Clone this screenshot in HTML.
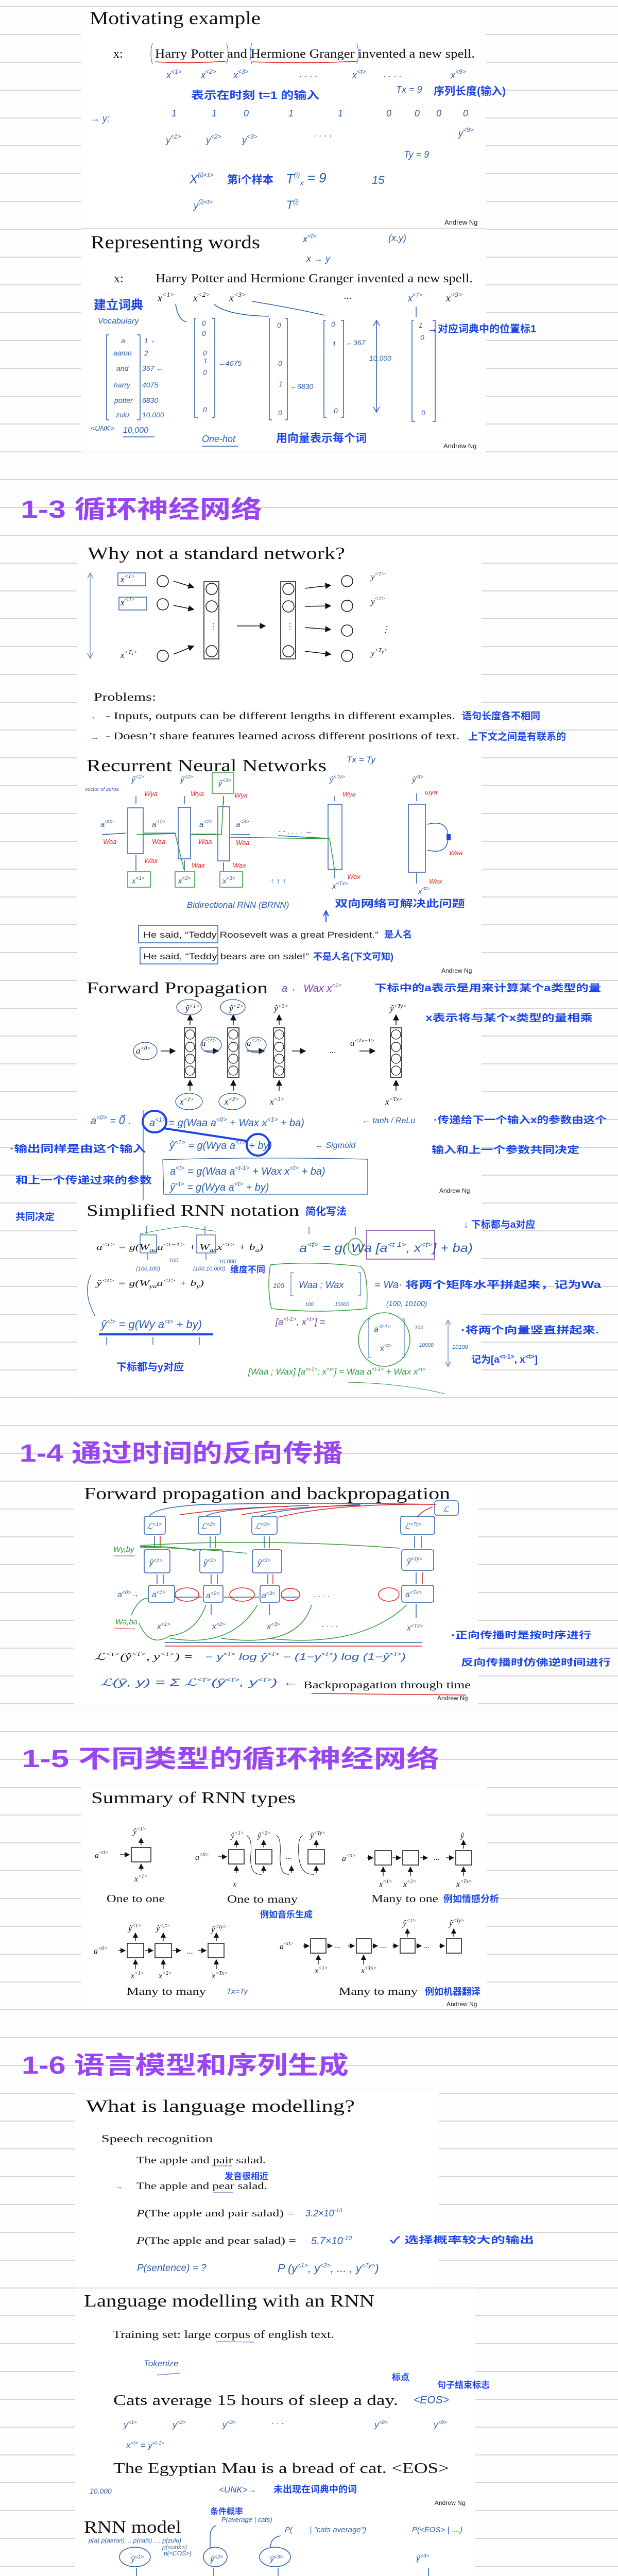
<!DOCTYPE html>
<html><head><meta charset="utf-8"><style>
html,body{margin:0;padding:0;background:#fdfdfd;width:1200px;height:5091px;overflow:hidden;}
svg{display:block;overflow:hidden;}
.t{font-family:"Liberation Serif","Noto Serif CJK SC",serif;fill:#111;}
.s{font-family:"Liberation Sans",sans-serif;fill:#222;}
.h{font-family:"Liberation Sans","Noto Sans CJK SC",sans-serif;font-weight:bold;fill:#9a45f2;}
.b{font-family:"Liberation Sans","Noto Sans CJK SC",sans-serif;font-weight:bold;fill:#1c44e6;}
.p{font-family:"Liberation Sans",sans-serif;font-style:italic;fill:#2a5ea8;}
.m{font-family:"Liberation Serif",serif;font-style:italic;fill:#111;}
.g{fill:#2f9a3a;font-family:"Liberation Sans",sans-serif;font-style:italic;}
.r{fill:#d22;font-family:"Liberation Sans",sans-serif;font-style:italic;}
</style></head><body>
<svg width="1200" height="5091" viewBox="0 0 1200 5091" xmlns="http://www.w3.org/2000/svg">
<defs>
<pattern id="ln" x="0" y="12" width="1200" height="54" patternUnits="userSpaceOnUse">
<rect x="0" y="0" width="1200" height="2" fill="#d6d6d6"/></pattern>
<marker id="ah" markerWidth="8" markerHeight="8" refX="7" refY="4" orient="auto"><path d="M0,0 L8,4 L0,8 z" fill="#111"/></marker>
</defs>
<rect width="1200" height="5091" fill="#fdfdfd"/>
<rect width="1200" height="5091" fill="url(#ln)"/>

<rect x="157" y="13" width="786" height="864" fill="#fff"/>
<rect x="149" y="1040" width="786" height="1672" fill="#fff"/>
<rect x="144" y="2876" width="784" height="431" fill="#fff"/>
<rect x="157" y="3469" width="789" height="428" fill="#fff"/>
<rect x="145" y="4061" width="707" height="380" fill="#fff"/>
<rect x="145" y="4441" width="778" height="650" fill="#fff"/>
<line x1="157" y1="443" x2="943" y2="443" stroke="#ddd" stroke-width="2"/>

<text class="t" x="174" y="47" font-size="36" textLength="332" lengthAdjust="spacingAndGlyphs">Motivating example</text>
<text class="t" x="220" y="112" font-size="24">x:</text>
<text class="t" x="301" y="112" font-size="24" textLength="621" lengthAdjust="spacingAndGlyphs">Harry Potter and Hermione Granger invented a new spell.</text>
<path d="M302,120 Q360,124 438,119 M490,120 Q590,124 693,119" stroke="#d22" stroke-width="1.5" fill="none"/>
<path d="M296,84 Q290,104 296,124 M440,84 Q446,104 440,124 M489,84 Q483,104 489,124 M693,84 Q699,104 693,124" stroke="#2a5ea8" fill="none"/>
<g class="p" font-size="18">
<text x="323" y="152">x<tspan font-size="12" dy="-9">&lt;1&gt;</tspan></text>
<text x="390" y="152">x<tspan font-size="12" dy="-9">&lt;2&gt;</tspan></text>
<text x="453" y="152">x<tspan font-size="12" dy="-9">&lt;3&gt;</tspan></text>
<text x="582" y="150">. . . .</text>
<text x="684" y="152">x<tspan font-size="12" dy="-9">&lt;t&gt;</tspan></text>
<text x="745" y="150">. . . .</text>
<text x="875" y="152">x<tspan font-size="12" dy="-9">&lt;9&gt;</tspan></text>
<text x="769" y="180">Tx = 9</text>
<text x="176" y="236">→ y:</text>
<text x="333" y="226">1</text><text x="411" y="226">1</text><text x="473" y="226">0</text><text x="560" y="226">1</text><text x="656" y="226">1</text><text x="750" y="226">0</text><text x="805" y="226">0</text><text x="847" y="226">0</text><text x="899" y="226">0</text>
<text x="322" y="278">y<tspan font-size="12" dy="-9">&lt;1&gt;</tspan></text>
<text x="400" y="278">y<tspan font-size="12" dy="-9">&lt;2&gt;</tspan></text>
<text x="470" y="278">y<tspan font-size="12" dy="-9">&lt;3&gt;</tspan></text>
<text x="610" y="265">. . . .</text>
<text x="890" y="265">y<tspan font-size="12" dy="-9">&lt;9&gt;</tspan></text>
<text x="784" y="306">Ty = 9</text>
<text x="368" y="356" font-size="24">X<tspan font-size="13" dy="-12">(i)&lt;t&gt;</tspan></text>
<text x="555" y="356" font-size="26">T<tspan font-size="13" dy="-12">(i)</tspan><tspan font-size="14" dy="16">x</tspan><tspan dy="-6"> = 9</tspan></text>
<text x="722" y="357" font-size="22">15</text>
<text x="376" y="405">y<tspan font-size="12" dy="-9">(i)&lt;t&gt;</tspan></text>
<text x="556" y="405" font-size="22">T<tspan font-size="12" dy="-9">(i)</tspan></text>
</g>
<text class="b" x="371" y="192" font-size="21" textLength="249" lengthAdjust="spacingAndGlyphs">表示在时刻 t=1 的输入</text>
<text class="b" x="842" y="184" font-size="21">序列长度(输入)</text>
<text class="b" x="441" y="356" font-size="21">第i个样本</text>
<text class="s" x="863" y="436" font-size="13">Andrew Ng</text>

<text class="t" x="176" y="482" font-size="36" textLength="329" lengthAdjust="spacingAndGlyphs">Representing words</text>
<g class="p" font-size="18">
<text x="588" y="470">x<tspan font-size="12" dy="-8">&lt;t&gt;</tspan></text>
<text x="754" y="468">(x,y)</text>
<text x="595" y="508">x  →  y</text>
</g>
<text class="t" x="221" y="548" font-size="24">x:</text>
<text class="t" x="302" y="548" font-size="24" textLength="616" lengthAdjust="spacingAndGlyphs">Harry Potter and Hermione Granger invented a new spell.</text>
<g class="m" font-size="20">
<text x="306" y="585">x<tspan font-size="13" dy="-9">&lt;1&gt;</tspan></text>
<text x="375" y="585">x<tspan font-size="13" dy="-9">&lt;2&gt;</tspan></text>
<text x="445" y="585">x<tspan font-size="13" dy="-9">&lt;3&gt;</tspan></text>
<text x="668" y="580">...</text>
<text x="866" y="585">x<tspan font-size="13" dy="-9">&lt;9&gt;</tspan></text>
</g>
<text class="p" x="792" y="585" font-size="18">x<tspan font-size="11" dy="-9">&lt;7&gt;</tspan></text>
<text class="b" x="182" y="600" font-size="24">建立词典</text>
<text class="p" x="190" y="628" font-size="16">Vocabulary</text>
<g stroke="#2a5ea8" fill="none" stroke-width="1.5">
<path d="M212,650 L207,650 L207,815 L212,815"/><path d="M266,650 L272,650 L272,815 L266,815"/>
<path d="M380,618 L378,618 L378,810 L384,810"/><path d="M412,618 L417,618 L417,810 L412,810"/>
<path d="M525,618 L523,618 L523,815 L528,815"/><path d="M554,618 L558,618 L558,815 L554,815"/>
<path d="M632,622 L629,622 L629,810 L634,810"/><path d="M662,622 L667,622 L667,810 L662,810"/>
<path d="M803,622 L800,622 L800,818 L806,818"/><path d="M840,622 L845,622 L845,818 L840,818"/>
<path d="M731,622 L731,800 M725,632 L731,622 L737,632 M725,790 L731,800 L737,790"/>
<path d="M341,590 Q345,620 362,625 M415,590 Q440,612 522,614 M490,585 Q580,600 630,612 M808,595 L808,615"/>
<path d="M239,848 L300,848 M393,866 L463,866"/>
</g>
<g class="p" font-size="14">
<text x="235" y="666">a</text><text x="220" y="690">aaron</text><text x="226" y="720">and</text><text x="221" y="752">harry</text><text x="222" y="782">potter</text><text x="225" y="810">zulu</text>
<text x="280" y="666">1 ←</text><text x="280" y="690">2</text><text x="276" y="720">367 ←</text><text x="276" y="752">4075</text><text x="276" y="782">6830</text><text x="276" y="810">10,000</text>
<text x="176" y="836">&lt;UNK&gt;</text><text x="239" y="840" font-size="16">10,000</text>
<text x="392" y="632">0</text><text x="392" y="652">0</text><text x="394" y="690">0</text><text x="395" y="705">1</text><text x="394" y="728">0</text><text x="394" y="800">0</text>
<text x="538" y="636">0</text><text x="540" y="710">0</text><text x="541" y="750">1</text><text x="540" y="806">0</text>
<text x="643" y="634">0</text><text x="645" y="672">1</text><text x="648" y="802">0</text>
<text x="813" y="636">1</text><text x="816" y="660">0</text><text x="818" y="806">0</text>
<text x="424" y="710">←4075</text><text x="563" y="755">←6830</text><text x="672" y="670">←367</text><text x="717" y="700">10,000</text>
<text x="392" y="858" font-size="18">One-hot</text>
</g>
<text class="b" x="830" y="645" font-size="20">→对应词典中的位置标1</text>
<text class="b" x="536" y="858" font-size="22">用向量表示每个词</text>
<text class="s" x="861" y="870" font-size="13">Andrew Ng</text>

<text class="h" x="40" y="1005" font-size="48" textLength="469" lengthAdjust="spacingAndGlyphs">1-3 循环神经网络</text>

<text class="t" x="170" y="1085" font-size="34" textLength="500" lengthAdjust="spacingAndGlyphs">Why not a standard network?</text>
<g class="m" font-size="17">
<text x="234" y="1130">x<tspan font-size="11" dy="-8">&lt;1&gt;</tspan></text>
<text x="234" y="1175">x<tspan font-size="11" dy="-8">&lt;2&gt;</tspan></text>
<text x="234" y="1277">x<tspan font-size="11" dy="-8">&lt;T</tspan><tspan font-size="9" dy="3">x</tspan><tspan font-size="11" dy="-3">&gt;</tspan></text>
<text x="720" y="1125">y<tspan font-size="11" dy="-8">&lt;1&gt;</tspan></text>
<text x="720" y="1173">y<tspan font-size="11" dy="-8">&lt;2&gt;</tspan></text>
<text x="740" y="1227">⋮</text>
<text x="720" y="1273">y<tspan font-size="11" dy="-8">&lt;T</tspan><tspan font-size="9" dy="3">y</tspan><tspan font-size="11" dy="-3">&gt;</tspan></text>
</g>
<g stroke="#111" fill="none" stroke-width="1.5">
<rect x="229" y="1112" width="54" height="25" stroke="#2a5ea8"/><rect x="231" y="1159" width="54" height="25" stroke="#2a5ea8"/>
<circle cx="316" cy="1128" r="11"/><circle cx="316" cy="1173" r="11"/><circle cx="316" cy="1273" r="11"/>
<rect x="396" y="1129" width="29" height="150"/><rect x="545" y="1129" width="29" height="150"/>
<circle cx="411" cy="1143" r="11"/><circle cx="411" cy="1177" r="11"/><circle cx="411" cy="1264" r="11"/>
<circle cx="560" cy="1143" r="11"/><circle cx="560" cy="1177" r="11"/><circle cx="560" cy="1264" r="11"/>
<circle cx="674" cy="1128" r="11"/><circle cx="674" cy="1176" r="11"/><circle cx="674" cy="1224" r="11"/><circle cx="674" cy="1273" r="11"/>
<line x1="337" y1="1128" x2="376" y2="1140" marker-end="url(#ah)"/><line x1="337" y1="1175" x2="376" y2="1183" marker-end="url(#ah)"/><line x1="337" y1="1270" x2="376" y2="1254" marker-end="url(#ah)"/>
<line x1="460" y1="1215" x2="515" y2="1215" marker-end="url(#ah)"/>
<line x1="592" y1="1142" x2="642" y2="1136" marker-end="url(#ah)"/><line x1="592" y1="1177" x2="642" y2="1176" marker-end="url(#ah)"/><line x1="592" y1="1218" x2="642" y2="1222" marker-end="url(#ah)"/><line x1="592" y1="1264" x2="642" y2="1270" marker-end="url(#ah)"/>
</g>
<text x="407" y="1220" font-size="14">⋮</text><text x="556" y="1220" font-size="14">⋮</text>
<path d="M175,1115 L175,1275 M170,1122 L175,1112 L180,1122 M170,1268 L175,1278 L180,1268" stroke="#2a5ea8" fill="none"/>
<text class="t" x="182" y="1360" font-size="22" textLength="121" lengthAdjust="spacingAndGlyphs">Problems:</text>
<text class="p" x="170" y="1396" font-size="16">→</text><text class="p" x="176" y="1436" font-size="16">→</text>
<text class="t" x="205" y="1396" font-size="20" textLength="679" lengthAdjust="spacingAndGlyphs">- Inputs, outputs can be different lengths in different examples.</text>
<text class="t" x="205" y="1435" font-size="20" textLength="687" lengthAdjust="spacingAndGlyphs">- Doesn’t share features learned across different positions of text.</text>
<text class="b" x="897" y="1396" font-size="19">语句长度各不相同</text>
<text class="b" x="909" y="1436" font-size="19">上下文之间是有联系的</text>

<text class="t" x="168" y="1497" font-size="34" textLength="466" lengthAdjust="spacingAndGlyphs">Recurrent Neural Networks</text>
<text class="p" x="673" y="1480" font-size="17">Tx = Ty</text>
<g stroke="#2a5ea8" fill="none" stroke-width="1.5">
<rect x="248" y="1568" width="30" height="89"/><rect x="346" y="1567" width="24" height="100"/><rect x="423" y="1566" width="23" height="105"/><rect x="637" y="1561" width="27" height="127"/><rect x="793" y="1561" width="33" height="132"/>
<path d="M198,1620 L244,1617 M280,1617 L342,1617 M372,1619 L420,1619 M448,1620 L485,1620 M540,1622 L632,1627"/>
<path d="M264,1560 L264,1545 M358,1560 L358,1545 M434,1560 L434,1545 M650,1555 L650,1545 M809,1555 L809,1540"/>
<path d="M264,1690 L264,1660 M358,1690 L358,1670 M434,1690 L434,1674 M650,1705 L650,1690 M809,1715 L809,1695"/>
<path d="M830,1600 Q870,1590 870,1625 Q870,1660 830,1650"/>
</g>
<g fill="none" stroke="#2f9a3a" stroke-width="1.5">
<rect x="248" y="1692" width="44" height="30"/><rect x="340" y="1692" width="38" height="30"/><rect x="427" y="1692" width="44" height="30"/><rect x="412" y="1500" width="42" height="40"/>
<path d="M265,1620 L340,1618 L358,1690 M370,1620 L430,1620 L434,1545 M446,1625 L640,1628 L650,1690"/>
</g>
<rect x="867" y="1619" width="8" height="12" fill="#1c44e6"/>
<g class="p" font-size="15">
<text x="255" y="1518">ŷ<tspan font-size="10" dy="-7">&lt;1&gt;</tspan></text><text x="350" y="1518">ŷ<tspan font-size="10" dy="-7">&lt;2&gt;</tspan></text><text x="424" y="1525">ŷ<tspan font-size="10" dy="-7">&lt;3&gt;</tspan></text><text x="640" y="1518">ŷ<tspan font-size="10" dy="-7">&lt;Ty&gt;</tspan></text><text x="800" y="1518">ŷ<tspan font-size="10" dy="-7">&lt;t&gt;</tspan></text>
<text x="195" y="1605">a<tspan font-size="10" dy="-7">&lt;0&gt;</tspan></text><text x="295" y="1605">a<tspan font-size="10" dy="-7">&lt;1&gt;</tspan></text><text x="387" y="1605">a<tspan font-size="10" dy="-7">&lt;2&gt;</tspan></text><text x="458" y="1605">a<tspan font-size="10" dy="-7">&lt;3&gt;</tspan></text>
<text x="256" y="1715">x<tspan font-size="10" dy="-7">&lt;1&gt;</tspan></text><text x="346" y="1715">x<tspan font-size="10" dy="-7">&lt;2&gt;</tspan></text><text x="432" y="1715">x<tspan font-size="10" dy="-7">&lt;3&gt;</tspan></text><text x="645" y="1725">x<tspan font-size="10" dy="-7">&lt;Tx&gt;</tspan></text><text x="812" y="1735">x<tspan font-size="10" dy="-7">&lt;t&gt;</tspan></text>
<text x="165" y="1535" font-size="10">vector of zeros</text>
<text x="540" y="1618">- - . . . . →</text>
<text x="525" y="1715">↑    ↑    ↑</text>
<text x="363" y="1762" font-size="17">Bidirectional   RNN   (BRNN)</text>
</g>
<g class="r" font-size="13">
<text x="280" y="1545">Wya</text><text x="370" y="1545">Wya</text><text x="455" y="1548">Wya</text><text x="665" y="1546">Wya</text><text x="825" y="1542">ωya</text>
<text x="200" y="1638">Waa</text><text x="295" y="1638">Waa</text><text x="385" y="1638">Waa</text><text x="458" y="1640">Waa</text><text x="872" y="1660">Waa</text>
<text x="280" y="1675">Wax</text><text x="372" y="1684">Wax</text><text x="452" y="1684">Wax</text><text x="674" y="1706">Wax</text><text x="833" y="1715">Wax</text>
</g>
<text class="b" x="650" y="1760" font-size="19" textLength="253" lengthAdjust="spacingAndGlyphs">双向网络可解决此问题</text>
<path d="M633,1790 L633,1770 M628,1778 L633,1768 L638,1778" stroke="#1c44e6" stroke-width="2" fill="none"/>
<rect x="269" y="1796" width="154" height="34" fill="none" stroke="#2a5ea8" stroke-width="1.5"/>
<rect x="272" y="1839" width="151" height="32" fill="none" stroke="#2a5ea8" stroke-width="1.5"/>
<text class="s" x="278" y="1820" font-size="17" textLength="457" lengthAdjust="spacingAndGlyphs">He said, “Teddy Roosevelt was a great President.”</text>
<text class="s" x="278" y="1862" font-size="17" textLength="322" lengthAdjust="spacingAndGlyphs">He said, “Teddy bears are on sale!”</text>
<text class="b" x="746" y="1820" font-size="18">是人名</text>
<text class="b" x="608" y="1863" font-size="18">不是人名(下文可知)</text>
<text class="s" x="857" y="1888" font-size="12">Andrew Ng</text>

<text class="t" x="168" y="1928" font-size="32" textLength="352" lengthAdjust="spacingAndGlyphs">Forward Propagation</text>
<text x="547" y="1925" font-size="20" font-style="italic" fill="#7a3fa8" font-family="Liberation Sans,sans-serif">a ← Wax x<tspan font-size="11" dy="-9">&lt;1&gt;</tspan></text>
<text class="b" x="727" y="1924" font-size="19" textLength="440" lengthAdjust="spacingAndGlyphs">下标中的a表示是用来计算某个a类型的量</text>
<text class="b" x="826" y="1982" font-size="19" textLength="325" lengthAdjust="spacingAndGlyphs">x表示将与某个x类型的量相乘</text>
<g stroke="#111" fill="none" stroke-width="1.5">
<rect x="358" y="1995" width="22" height="96"/><rect x="442" y="1995" width="22" height="96"/><rect x="531" y="1995" width="22" height="96"/><rect x="758" y="1995" width="22" height="96"/>
<g stroke-width="1.2">
<circle cx="369" cy="2008" r="9"/><circle cx="369" cy="2032" r="9"/><circle cx="369" cy="2055" r="9"/><circle cx="369" cy="2078" r="9"/>
<circle cx="453" cy="2008" r="9"/><circle cx="453" cy="2032" r="9"/><circle cx="453" cy="2055" r="9"/><circle cx="453" cy="2078" r="9"/>
<circle cx="542" cy="2008" r="9"/><circle cx="542" cy="2032" r="9"/><circle cx="542" cy="2055" r="9"/><circle cx="542" cy="2078" r="9"/>
<circle cx="769" cy="2008" r="9"/><circle cx="769" cy="2032" r="9"/><circle cx="769" cy="2055" r="9"/><circle cx="769" cy="2078" r="9"/>
</g>
<line x1="312" y1="2040" x2="340" y2="2040" marker-end="url(#ah)"/><line x1="396" y1="2040" x2="424" y2="2040" marker-end="url(#ah)"/><line x1="480" y1="2040" x2="513" y2="2040" marker-end="url(#ah)"/><line x1="567" y1="2040" x2="593" y2="2040" marker-end="url(#ah)"/><line x1="698" y1="2040" x2="728" y2="2040" marker-end="url(#ah)"/>
<line x1="369" y1="1990" x2="369" y2="1970" marker-end="url(#ah)"/><line x1="453" y1="1990" x2="453" y2="1970" marker-end="url(#ah)"/><line x1="542" y1="1990" x2="542" y2="1970" marker-end="url(#ah)"/><line x1="769" y1="1990" x2="769" y2="1970" marker-end="url(#ah)"/>
<line x1="369" y1="2117" x2="369" y2="2097" marker-end="url(#ah)"/><line x1="453" y1="2117" x2="453" y2="2097" marker-end="url(#ah)"/><line x1="542" y1="2117" x2="542" y2="2097" marker-end="url(#ah)"/><line x1="769" y1="2117" x2="769" y2="2097" marker-end="url(#ah)"/>
</g>
<g class="m" font-size="17">
<text x="360" y="1963">ŷ<tspan font-size="11" dy="-7">&lt;1&gt;</tspan></text><text x="445" y="1963">ŷ<tspan font-size="11" dy="-7">&lt;2&gt;</tspan></text><text x="532" y="1963">ŷ<tspan font-size="11" dy="-7">&lt;3&gt;</tspan></text><text x="757" y="1963">ŷ<tspan font-size="11" dy="-7">&lt;Ty&gt;</tspan></text>
<text x="264" y="2045">a<tspan font-size="11" dy="-7">&lt;0&gt;</tspan></text><text x="391" y="2030">a<tspan font-size="11" dy="-7">&lt;1&gt;</tspan></text><text x="479" y="2030">a<tspan font-size="11" dy="-7">&lt;2&gt;</tspan></text><text x="680" y="2030">a<tspan font-size="11" dy="-7">&lt;Tx−1&gt;</tspan></text><text x="640" y="2044">...</text>
<text x="349" y="2144">x<tspan font-size="11" dy="-7">&lt;1&gt;</tspan></text><text x="436" y="2144">x<tspan font-size="11" dy="-7">&lt;2&gt;</tspan></text><text x="524" y="2144">x<tspan font-size="11" dy="-7">&lt;3&gt;</tspan></text><text x="748" y="2144">x<tspan font-size="11" dy="-7">&lt;Tx&gt;</tspan></text>
</g>
<g fill="none" stroke="#2a5ea8" stroke-width="1.3">
<ellipse cx="282" cy="2040" rx="23" ry="17"/><ellipse cx="367" cy="1955" rx="24" ry="15"/><ellipse cx="452" cy="1955" rx="24" ry="15"/><ellipse cx="410" cy="2028" rx="20" ry="15"/><ellipse cx="497" cy="2028" rx="20" ry="15"/><ellipse cx="367" cy="2138" rx="26" ry="16"/><ellipse cx="451" cy="2138" rx="26" ry="16"/>
<path d="M278,2155 L278,2330"/>
<path d="M316,2251 Q500,2245 714,2250 L714,2318 L318,2318 Z"/>
</g>
<g fill="none" stroke="#1c44e6" stroke-width="4"><ellipse cx="300" cy="2177" rx="23" ry="21"/><ellipse cx="501" cy="2222" rx="22" ry="21"/><line x1="318" y1="2190" x2="482" y2="2215"/></g>
<g class="p" font-size="20">
<text x="176" y="2182">a<tspan font-size="12" dy="-9">&lt;0&gt;</tspan><tspan dy="9"> = 0⃗ .</tspan></text>
<text x="290" y="2186">a<tspan font-size="12" dy="-9">&lt;1&gt;</tspan><tspan dy="9"> = g(Waa a</tspan><tspan font-size="12" dy="-9">&lt;0&gt;</tspan><tspan dy="9"> + Wax x</tspan><tspan font-size="12" dy="-9">&lt;1&gt;</tspan><tspan dy="9"> + ba)</tspan></text>
<text x="703" y="2180" font-size="16">←  tanh / ReLu</text>
<text x="329" y="2230">ŷ<tspan font-size="12" dy="-9">&lt;1&gt;</tspan><tspan dy="9"> = g(Wya a</tspan><tspan font-size="12" dy="-9">&lt;1&gt;</tspan><tspan dy="9"> + by)</tspan></text>
<text x="612" y="2228" font-size="16">← Sigmoid</text>
<text x="330" y="2280">a<tspan font-size="12" dy="-9">&lt;t&gt;</tspan><tspan dy="9"> = g(Waa a</tspan><tspan font-size="12" dy="-9">&lt;t-1&gt;</tspan><tspan dy="9"> + Wax x</tspan><tspan font-size="12" dy="-9">&lt;t&gt;</tspan><tspan dy="9"> + ba)</tspan></text>
<text x="330" y="2311">ŷ<tspan font-size="12" dy="-9">&lt;t&gt;</tspan><tspan dy="9"> = g(Wya a</tspan><tspan font-size="12" dy="-9">&lt;t&gt;</tspan><tspan dy="9"> + by)</tspan></text>
</g>
<text class="b" x="842" y="2180" font-size="19" textLength="336" lengthAdjust="spacingAndGlyphs">·传递给下一个输入x的参数由这个</text>
<text class="b" x="838" y="2238" font-size="19" textLength="287" lengthAdjust="spacingAndGlyphs">输入和上一个参数共同决定</text>
<text class="b" x="19" y="2236" font-size="19" textLength="264" lengthAdjust="spacingAndGlyphs">·输出同样是由这个输入</text>
<text class="b" x="30" y="2297" font-size="19" textLength="265" lengthAdjust="spacingAndGlyphs">和上一个传递过来的参数</text>
<text class="b" x="30" y="2368" font-size="19">共同决定</text>
<text class="s" x="853" y="2315" font-size="12">Andrew Ng</text>

<text class="t" x="168" y="2360" font-size="32" textLength="413" lengthAdjust="spacingAndGlyphs">Simplified RNN notation</text>
<text class="b" x="593" y="2358" font-size="20">简化写法</text>
<text class="m" x="187" y="2426" font-size="17" textLength="324" lengthAdjust="spacingAndGlyphs">a<tspan font-size="11" dy="-7">&lt;t&gt;</tspan><tspan dy="7"> = g(W</tspan><tspan font-size="11" dy="4">aa</tspan><tspan dy="-4">a</tspan><tspan font-size="11" dy="-7">&lt;t−1&gt;</tspan><tspan dy="7"> + W</tspan><tspan font-size="11" dy="4">ax</tspan><tspan dy="-4">x</tspan><tspan font-size="11" dy="-7">&lt;t&gt;</tspan><tspan dy="7"> + b</tspan><tspan font-size="11" dy="4">a</tspan><tspan dy="-4">)</tspan></text>
<text class="m" x="187" y="2496" font-size="17" textLength="209" lengthAdjust="spacingAndGlyphs">ŷ<tspan font-size="11" dy="-7">&lt;t&gt;</tspan><tspan dy="7"> = g(W</tspan><tspan font-size="11" dy="4">ya</tspan><tspan dy="-4">a</tspan><tspan font-size="11" dy="-7">&lt;t&gt;</tspan><tspan dy="7"> + b</tspan><tspan font-size="11" dy="4">y</tspan><tspan dy="-4">)</tspan></text>
<g fill="none" stroke="#2a5ea8" stroke-width="1.3">
<rect x="272" y="2397" width="32" height="35"/><rect x="382" y="2397" width="36" height="35"/>
<path d="M285,2380 L285,2395 M398,2380 L398,2395 M287,2445 L287,2432 M400,2445 L400,2432"/>
<path d="M176,2475 Q160,2510 185,2555"/>
<path d="M207,2610 L207,2595 M297,2610 L297,2595 M387,2610 L387,2595"/>
<path d="M600,2382 L600,2395 M690,2382 L690,2398"/>
</g>
<path d="M272,2395 Q320,2385 360,2380 Q380,2385 420,2390" stroke="#2f9a3a" fill="none"/>
<g class="p" font-size="11">
<text x="264" y="2466">(100,100)</text><text x="328" y="2450">100</text><text x="375" y="2466">(100,10,000)</text><text x="425" y="2452">10,000</text>
</g>
<text class="b" x="447" y="2470" font-size="17">维度不同</text>
<text class="p" x="196" y="2578" font-size="22">ŷ<tspan font-size="12" dy="-9">&lt;t&gt;</tspan><tspan dy="9"> = g(Wy a</tspan><tspan font-size="12" dy="-9">&lt;t&gt;</tspan><tspan dy="9"> + by)</tspan></text>
<rect x="192" y="2588" width="222" height="4" fill="#1c44e6"/>
<text class="b" x="226" y="2660" font-size="20">下标都与y对应</text>
<text class="p" x="581" y="2430" font-size="23" textLength="337" lengthAdjust="spacingAndGlyphs">a<tspan font-size="13" dy="-10">&lt;t&gt;</tspan><tspan dy="10"> = g( Wa [a</tspan><tspan font-size="13" dy="-10">&lt;t-1&gt;</tspan><tspan dy="10">, x</tspan><tspan font-size="13" dy="-10">&lt;t&gt;</tspan><tspan dy="10">] + ba)</tspan></text>
<rect x="712" y="2388" width="132" height="56" fill="none" stroke="#7a3fa8" stroke-width="1.5"/>
<ellipse cx="690" cy="2420" rx="14" ry="16" fill="none" stroke="#2f9a3a" stroke-width="1.5"/>
<text class="b" x="900" y="2383" font-size="19">↓ 下标都与a对应</text>
<path d="M525,2455 Q600,2447 700,2458 Q716,2470 712,2540 Q620,2550 527,2540 Q518,2500 525,2455Z" fill="none" stroke="#2f9a3a" stroke-width="1.5"/>
<text class="p" x="530" y="2500" font-size="13">100</text>
<path d="M570,2470 L565,2470 L565,2515 L570,2515 M695,2470 L700,2470 L700,2515 L695,2515" stroke="#2a5ea8" fill="none"/>
<text class="p" x="580" y="2500" font-size="18">Waa  ;  Wax</text>
<text class="p" x="592" y="2535" font-size="10">100</text><text class="p" x="650" y="2535" font-size="10">10000</text>
<text class="p" x="727" y="2500" font-size="20">= Wa·</text>
<text class="b" x="787" y="2500" font-size="19" textLength="380" lengthAdjust="spacingAndGlyphs">将两个矩阵水平拼起来，记为Wa</text>
<text class="p" x="750" y="2535" font-size="14">(100, 10100)</text>
<text x="535" y="2572" font-size="18" font-style="italic" fill="#7a3fa8" font-family="Liberation Sans,sans-serif">[a<tspan font-size="11" dy="-8">&lt;t-1&gt;</tspan><tspan dy="8">, x</tspan><tspan font-size="11" dy="-8">&lt;t&gt;</tspan><tspan dy="8">] =</tspan></text>
<ellipse cx="746" cy="2600" rx="50" ry="52" fill="none" stroke="#2f9a3a" stroke-width="1.5"/>
<path d="M720,2560 L716,2560 L716,2635 L720,2635 M780,2560 L785,2560 L785,2635 L780,2635" stroke="#2a5ea8" fill="none"/>
<text class="p" x="726" y="2585" font-size="16">a<tspan font-size="10" dy="-7">&lt;t-1&gt;</tspan></text><text class="p" x="738" y="2622" font-size="16">x<tspan font-size="10" dy="-7">&lt;t&gt;</tspan></text>
<text class="p" x="805" y="2580" font-size="10">100</text><text class="p" x="814" y="2614" font-size="10">10000</text><text class="p" x="878" y="2618" font-size="11">10100</text>
<path d="M870,2565 L870,2650 M865,2572 L870,2562 L875,2572 M865,2643 L870,2653 L875,2643" stroke="#2a5ea8" fill="none"/>
<text class="b" x="895" y="2588" font-size="19" textLength="268" lengthAdjust="spacingAndGlyphs">·将两个向量竖直拼起来.</text>
<text class="b" x="915" y="2645" font-size="19">记为[a<tspan font-size="12" dy="-8">&lt;t-1&gt;</tspan><tspan dy="8">, x</tspan><tspan font-size="12" dy="-8">&lt;t&gt;</tspan><tspan dy="8">]</tspan></text>
<text class="g" x="482" y="2668" font-size="17">[Waa ; Wax] [a<tspan font-size="10" dy="-7">&lt;t-1&gt;</tspan><tspan dy="7">; x</tspan><tspan font-size="10" dy="-7">&lt;t&gt;</tspan><tspan dy="7">] = Waa a</tspan><tspan font-size="10" dy="-7">&lt;t-1&gt;</tspan><tspan dy="7"> + Wax x</tspan><tspan font-size="10" dy="-7">&lt;t&gt;</tspan></text>
<path d="M676,2683 Q780,2685 862,2705" stroke="#2f9a3a" fill="none"/>

<text class="h" x="38" y="2837" font-size="48" textLength="628" lengthAdjust="spacingAndGlyphs">1-4 通过时间的反向传播</text>

<text class="t" x="163" y="2910" font-size="34" textLength="711" lengthAdjust="spacingAndGlyphs">Forward propagation and backpropagation</text>
<g fill="none" stroke="#2a5ea8" stroke-width="1.5">
<rect x="280" y="2943" width="41" height="35" rx="4"/><rect x="385" y="2943" width="43" height="35" rx="4"/><rect x="489" y="2943" width="49" height="35" rx="4"/><rect x="778" y="2943" width="66" height="35" rx="4"/>
<rect x="844" y="2913" width="46" height="28" rx="4"/>
<rect x="280" y="3008" width="50" height="45" rx="4"/><rect x="388" y="3008" width="45" height="45" rx="4"/><rect x="490" y="3008" width="57" height="45" rx="4"/><rect x="780" y="3008" width="62" height="40" rx="4"/>
<rect x="288" y="3077" width="51" height="33" rx="4"/><rect x="395" y="3077" width="38" height="33" rx="4"/><rect x="505" y="3077" width="38" height="33" rx="4"/><rect x="780" y="3077" width="62" height="33" rx="4"/>
<path d="M300,3005 L300,2982 M408,3005 L408,2982 M513,3005 L513,2982 M805,3005 L805,2982"/>
<path d="M305,3075 L305,3056 M410,3075 L410,3056 M520,3075 L520,3056 M808,3075 L808,3052"/>
<path d="M410,3135 L410,3113 M523,3135 L523,3113 M808,3140 L808,3113"/>
<path d="M290,2943 Q300,2925 400,2920 Q600,2916 840,2920 M400,2943 Q420,2928 600,2922 M505,2943 Q540,2928 700,2920"/>
<path d="M340,3100 L393,3100 M435,3100 L503,3100 M545,3100 L578,3100"/>
<path d="M320,3188 L820,3188"/>
</g>
<g fill="none" stroke="#d22" stroke-width="1.5">
<path d="M846,2920 Q650,2918 540,2945 M700,2922 Q560,2924 470,2940 M560,2924 Q450,2926 350,2940 M840,2925 Q820,2932 810,2945"/>
<path d="M311,2982 L311,3005 M418,2982 L418,3005 M523,2982 L523,3005 M818,2982 L818,3005 M318,3056 L318,3075 M422,3056 L422,3075 M530,3056 L530,3075 M820,3052 L820,3075"/>
<ellipse cx="363" cy="3095" rx="23" ry="13"/><ellipse cx="470" cy="3095" rx="24" ry="13"/><ellipse cx="564" cy="3095" rx="18" ry="12"/><ellipse cx="755" cy="3095" rx="20" ry="13"/>
<path d="M320,3195 L820,3195"/><path d="M605,3287 L905,3290"/>
</g>
<g fill="none" stroke="#2f9a3a" stroke-width="1.5">
<path d="M272,3000 Q500,2985 776,3005 M272,3002 Q330,3000 380,3010 M272,3003 Q380,3005 480,3015"/>
<path d="M255,3135 Q270,3100 288,3103 M270,3150 Q290,3200 330,3175 Q380,3170 400,3115 M330,3180 Q450,3200 500,3115 M430,3180 Q580,3200 605,3115 M520,3180 Q700,3200 790,3115"/>
</g>
<g class="p" font-size="16">
<text x="285" y="2968">ℒ<tspan font-size="10" dy="-6">&lt;1&gt;</tspan></text><text x="390" y="2968">ℒ<tspan font-size="10" dy="-6">&lt;2&gt;</tspan></text><text x="495" y="2968">ℒ<tspan font-size="10" dy="-6">&lt;3&gt;</tspan></text><text x="785" y="2968">ℒ<tspan font-size="10" dy="-6">&lt;Ty&gt;</tspan></text><text x="860" y="2935">ℒ</text>
<text x="290" y="3038">ŷ<tspan font-size="10" dy="-6">&lt;1&gt;</tspan></text><text x="395" y="3038">ŷ<tspan font-size="10" dy="-6">&lt;2&gt;</tspan></text><text x="500" y="3038">ŷ<tspan font-size="10" dy="-6">&lt;3&gt;</tspan></text><text x="790" y="3035">ŷ<tspan font-size="10" dy="-6">&lt;Ty&gt;</tspan></text>
<text x="228" y="3100">a<tspan font-size="10" dy="-6">&lt;0&gt;</tspan><tspan dy="6">→</tspan></text><text x="295" y="3100">a<tspan font-size="10" dy="-6">&lt;1&gt;</tspan></text><text x="400" y="3102">a<tspan font-size="10" dy="-6">&lt;2&gt;</tspan></text><text x="508" y="3102">a<tspan font-size="10" dy="-6">&lt;3&gt;</tspan></text><text x="787" y="3100">a<tspan font-size="10" dy="-6">&lt;Tx&gt;</tspan></text>
<text x="610" y="3100">. . . .</text><text x="625" y="3158">. . . .</text>
<text x="305" y="3162">x<tspan font-size="10" dy="-6">&lt;1&gt;</tspan></text><text x="412" y="3162">x<tspan font-size="10" dy="-6">&lt;2&gt;</tspan></text><text x="518" y="3162">x<tspan font-size="10" dy="-6">&lt;3&gt;</tspan></text><text x="790" y="3165">x<tspan font-size="10" dy="-6">&lt;Tx&gt;</tspan></text>
</g>
<text class="g" x="220" y="3012" font-size="15">Wy,by</text><text class="g" x="224" y="3153" font-size="15">Wa,ba</text>
<path d="M222,3020 L262,3020 M222,3160 L262,3162" stroke="#d22"/>
<text class="m" x="184" y="3222" font-size="19" textLength="191" lengthAdjust="spacingAndGlyphs">ℒ<tspan font-size="12" dy="-8">&lt;t&gt;</tspan><tspan dy="8">(ŷ</tspan><tspan font-size="12" dy="-8">&lt;t&gt;</tspan><tspan dy="8">, y</tspan><tspan font-size="12" dy="-8">&lt;t&gt;</tspan><tspan dy="8">) =</tspan></text>
<text class="p" x="398" y="3222" font-size="18" textLength="390" lengthAdjust="spacingAndGlyphs">− y<tspan font-size="11" dy="-8">&lt;t&gt;</tspan><tspan dy="8"> log ŷ</tspan><tspan font-size="11" dy="-8">&lt;t&gt;</tspan><tspan dy="8">  − (1−y</tspan><tspan font-size="11" dy="-8">&lt;t&gt;</tspan><tspan dy="8">) log (1−ŷ</tspan><tspan font-size="11" dy="-8">&lt;t&gt;</tspan><tspan dy="8">)</tspan></text>
<text class="p" x="195" y="3272" font-size="19" textLength="386" lengthAdjust="spacingAndGlyphs">ℒ(ŷ, y)  =  Σ ℒ<tspan font-size="11" dy="-8">&lt;t&gt;</tspan><tspan dy="8">(ŷ</tspan><tspan font-size="11" dy="-8">&lt;t&gt;</tspan><tspan dy="8">, y</tspan><tspan font-size="11" dy="-8">&lt;t&gt;</tspan><tspan dy="8">) ←</tspan></text>
<text class="t" x="589" y="3277" font-size="20" textLength="325" lengthAdjust="spacingAndGlyphs">Backpropagation through time</text>
<text class="s" x="849" y="3300" font-size="12">Andrew Ng</text>
<text class="b" x="876" y="3180" font-size="18" textLength="272" lengthAdjust="spacingAndGlyphs">·正向传播时是按时序进行</text>
<text class="b" x="895" y="3233" font-size="18" textLength="291" lengthAdjust="spacingAndGlyphs">反向传播时仿佛逆时间进行</text>

<text class="h" x="42" y="3430" font-size="48" textLength="811" lengthAdjust="spacingAndGlyphs">1-5 不同类型的循环神经网络</text>

<text class="t" x="177" y="3500" font-size="32" textLength="397" lengthAdjust="spacingAndGlyphs">Summary of RNN types</text>
<g stroke="#111" fill="none" stroke-width="1.5">
<rect x="255" y="3586" width="38" height="28"/>
<rect x="444" y="3590" width="30" height="28"/><rect x="496" y="3590" width="32" height="28"/><rect x="598" y="3590" width="32" height="28"/>
<rect x="728" y="3592" width="32" height="28"/><rect x="782" y="3592" width="31" height="28"/><rect x="885" y="3592" width="31" height="28"/>
<rect x="247" y="3772" width="32" height="28"/><rect x="301" y="3772" width="32" height="28"/><rect x="404" y="3772" width="31" height="28"/>
<rect x="603" y="3763" width="30" height="28"/><rect x="692" y="3763" width="29" height="28"/><rect x="777" y="3763" width="29" height="28"/><rect x="867" y="3763" width="29" height="28"/>
<g stroke-width="1.3">
<line x1="274" y1="3582" x2="274" y2="3568" marker-end="url(#ah)"/><line x1="274" y1="3632" x2="274" y2="3618" marker-end="url(#ah)"/><line x1="233" y1="3600" x2="251" y2="3600" marker-end="url(#ah)"/>
<line x1="459" y1="3586" x2="459" y2="3572" marker-end="url(#ah)"/><line x1="512" y1="3586" x2="512" y2="3572" marker-end="url(#ah)"/><line x1="614" y1="3586" x2="614" y2="3572" marker-end="url(#ah)"/>
<line x1="459" y1="3636" x2="459" y2="3622" marker-end="url(#ah)"/><line x1="512" y1="3636" x2="512" y2="3622" marker-end="url(#ah)"/><line x1="566" y1="3636" x2="566" y2="3622" marker-end="url(#ah)"/><line x1="614" y1="3636" x2="614" y2="3622" marker-end="url(#ah)"/>
<line x1="424" y1="3604" x2="440" y2="3604" marker-end="url(#ah)"/>
<path d="M478,3563 Q490,3565 487,3600 Q484,3640 508,3638 M536,3563 Q546,3565 544,3600 Q542,3640 562,3638 M588,3563 Q578,3565 580,3600 Q582,3640 610,3638" stroke-width="1"/>
<line x1="712" y1="3606" x2="724" y2="3606" marker-end="url(#ah)"/><line x1="762" y1="3606" x2="778" y2="3606" marker-end="url(#ah)"/><line x1="815" y1="3606" x2="830" y2="3606" marker-end="url(#ah)"/><line x1="866" y1="3606" x2="881" y2="3606" marker-end="url(#ah)"/>
<line x1="744" y1="3642" x2="744" y2="3624" marker-end="url(#ah)"/><line x1="797" y1="3642" x2="797" y2="3624" marker-end="url(#ah)"/><line x1="900" y1="3642" x2="900" y2="3624" marker-end="url(#ah)"/><line x1="900" y1="3588" x2="900" y2="3572" marker-end="url(#ah)"/>
<line x1="230" y1="3786" x2="243" y2="3786" marker-end="url(#ah)"/><line x1="281" y1="3786" x2="297" y2="3786" marker-end="url(#ah)"/><line x1="335" y1="3786" x2="351" y2="3786" marker-end="url(#ah)"/><line x1="385" y1="3786" x2="400" y2="3786" marker-end="url(#ah)"/>
<line x1="263" y1="3768" x2="263" y2="3752" marker-end="url(#ah)"/><line x1="317" y1="3768" x2="317" y2="3752" marker-end="url(#ah)"/><line x1="420" y1="3768" x2="420" y2="3752" marker-end="url(#ah)"/>
<line x1="263" y1="3822" x2="263" y2="3804" marker-end="url(#ah)"/><line x1="317" y1="3822" x2="317" y2="3804" marker-end="url(#ah)"/><line x1="420" y1="3822" x2="420" y2="3804" marker-end="url(#ah)"/>
<line x1="588" y1="3777" x2="600" y2="3777" marker-end="url(#ah)"/><line x1="635" y1="3777" x2="645" y2="3777" marker-end="url(#ah)"/><line x1="675" y1="3777" x2="688" y2="3777" marker-end="url(#ah)"/><line x1="723" y1="3777" x2="733" y2="3777" marker-end="url(#ah)"/><line x1="762" y1="3777" x2="773" y2="3777" marker-end="url(#ah)"/><line x1="808" y1="3777" x2="818" y2="3777" marker-end="url(#ah)"/><line x1="852" y1="3777" x2="863" y2="3777" marker-end="url(#ah)"/>
<line x1="618" y1="3813" x2="618" y2="3795" marker-end="url(#ah)"/><line x1="706" y1="3813" x2="706" y2="3795" marker-end="url(#ah)"/><line x1="791" y1="3759" x2="791" y2="3744" marker-end="url(#ah)"/><line x1="881" y1="3759" x2="881" y2="3744" marker-end="url(#ah)"/>
</g></g>
<g class="m" font-size="16">
<text x="258" y="3560">ŷ<tspan font-size="10" dy="-7">&lt;1&gt;</tspan></text><text x="261" y="3652">x<tspan font-size="10" dy="-7">&lt;1&gt;</tspan></text><text x="184" y="3606">a<tspan font-size="10" dy="-7">&lt;0&gt;</tspan></text>
<text x="448" y="3568">ŷ<tspan font-size="10" dy="-7">&lt;1&gt;</tspan></text><text x="500" y="3568">ŷ<tspan font-size="10" dy="-7">&lt;2&gt;</tspan></text><text x="602" y="3568">ŷ<tspan font-size="10" dy="-7">&lt;Ty&gt;</tspan></text><text x="379" y="3610">a<tspan font-size="10" dy="-7">&lt;0&gt;</tspan></text><text x="452" y="3662">x</text><text x="555" y="3608">...</text>
<text x="664" y="3612">a<tspan font-size="10" dy="-7">&lt;0&gt;</tspan></text><text x="894" y="3568">ŷ</text><text x="842" y="3610">...</text><text x="736" y="3662">x<tspan font-size="10" dy="-7">&lt;1&gt;</tspan></text><text x="783" y="3662">x<tspan font-size="10" dy="-7">&lt;2&gt;</tspan></text><text x="886" y="3662">x<tspan font-size="10" dy="-7">&lt;Tx&gt;</tspan></text>
<text x="249" y="3748">ŷ<tspan font-size="10" dy="-7">&lt;1&gt;</tspan></text><text x="303" y="3748">ŷ<tspan font-size="10" dy="-7">&lt;2&gt;</tspan></text><text x="410" y="3750">ŷ<tspan font-size="10" dy="-7">&lt;Ty&gt;</tspan></text><text x="182" y="3792">a<tspan font-size="10" dy="-7">&lt;0&gt;</tspan></text><text x="363" y="3792">...</text>
<text x="254" y="3840">x<tspan font-size="10" dy="-7">&lt;1&gt;</tspan></text><text x="308" y="3840">x<tspan font-size="10" dy="-7">&lt;2&gt;</tspan></text><text x="411" y="3840">x<tspan font-size="10" dy="-7">&lt;Tx&gt;</tspan></text>
<text x="543" y="3783">a<tspan font-size="10" dy="-7">&lt;0&gt;</tspan></text><text x="649" y="3781">...</text><text x="738" y="3781">...</text><text x="822" y="3781">...</text>
<text x="611" y="3830">x<tspan font-size="10" dy="-7">&lt;1&gt;</tspan></text><text x="701" y="3830">x<tspan font-size="10" dy="-7">&lt;Tx&gt;</tspan></text><text x="782" y="3738">ŷ<tspan font-size="10" dy="-7">&lt;1&gt;</tspan></text><text x="872" y="3738">ŷ<tspan font-size="10" dy="-7">&lt;Ty&gt;</tspan></text>
</g>
<g class="t" font-size="21">
<text x="207" y="3692" textLength="113" lengthAdjust="spacingAndGlyphs">One to one</text>
<text x="441" y="3693" textLength="137" lengthAdjust="spacingAndGlyphs">One to many</text>
<text x="721" y="3692" textLength="130" lengthAdjust="spacingAndGlyphs">Many to one</text>
<text x="246" y="3872" textLength="154" lengthAdjust="spacingAndGlyphs">Many to many</text>
<text x="658" y="3872" textLength="153" lengthAdjust="spacingAndGlyphs">Many to many</text>
</g>
<text class="b" x="505" y="3722" font-size="17">例如音乐生成</text>
<text class="b" x="861" y="3692" font-size="18">例如情感分析</text>
<text class="b" x="825" y="3872" font-size="18">例如机器翻译</text>
<text class="p" x="440" y="3870" font-size="15">Tx=Ty</text>
<text class="s" x="867" y="3894" font-size="12">Andrew Ng</text>

<text class="h" x="42" y="4025" font-size="48" textLength="635" lengthAdjust="spacingAndGlyphs">1-6 语言模型和序列生成</text>

<text class="t" x="167" y="4099" font-size="34" textLength="522" lengthAdjust="spacingAndGlyphs">What is language modelling?</text>
<text class="t" x="197" y="4158" font-size="21" textLength="216" lengthAdjust="spacingAndGlyphs">Speech recognition</text>
<text class="t" x="265" y="4199" font-size="19" textLength="251" lengthAdjust="spacingAndGlyphs">The apple and pair salad.</text>
<text class="p" x="222" y="4249" font-size="16">→</text>
<text class="t" x="265" y="4249" font-size="19" textLength="254" lengthAdjust="spacingAndGlyphs">The apple and pear salad.</text>
<path d="M412,4204 L450,4204 M413,4256 L452,4256" stroke="#2a5ea8" fill="none"/>
<text class="b" x="436" y="4230" font-size="17">发音很相近</text>
<text class="t" x="265" y="4302" font-size="19" textLength="307" lengthAdjust="spacingAndGlyphs"><tspan font-style="italic">P</tspan>(The apple and pair salad) =</text>
<text class="t" x="265" y="4355" font-size="19" textLength="310" lengthAdjust="spacingAndGlyphs"><tspan font-style="italic">P</tspan>(The apple and pear salad) =</text>
<text class="p" x="593" y="4302" font-size="18">3.2×10<tspan font-size="11" dy="-8">-13</tspan></text>
<text class="p" x="604" y="4356" font-size="20">5.7×10<tspan font-size="12" dy="-8">-10</tspan></text>
<text class="b" x="757" y="4354" font-size="18" textLength="280" lengthAdjust="spacingAndGlyphs">✓ 选择概率较大的输出</text>
<text class="p" x="266" y="4408" font-size="19">P(sentence) = ?</text>
<text class="p" x="539" y="4410" font-size="22">P (y<tspan font-size="12" dy="-9">&lt;1&gt;</tspan><tspan dy="9">, y</tspan><tspan font-size="12" dy="-9">&lt;2&gt;</tspan><tspan dy="9">, ... , y</tspan><tspan font-size="12" dy="-9">&lt;Ty&gt;</tspan><tspan dy="9">)</tspan></text>
<line x1="145" y1="4441" x2="923" y2="4441" stroke="#ddd" stroke-width="2"/>

<text class="t" x="163" y="4477" font-size="34" textLength="564" lengthAdjust="spacingAndGlyphs">Language modelling with an RNN</text>
<text class="t" x="219" y="4538" font-size="21" textLength="430" lengthAdjust="spacingAndGlyphs">Training set: large corpus of english text.</text>
<path d="M420,4545 L493,4546" stroke="#2a5ea8"/>
<text class="p" x="279" y="4593" font-size="17">Tokenize</text>
<path d="M305,4610 L350,4606" stroke="#2a5ea8"/>
<text class="t" x="220" y="4668" font-size="29" textLength="553" lengthAdjust="spacingAndGlyphs">Cats average 15 hours of sleep a day.</text>
<text class="p" x="803" y="4665" font-size="21">&lt;EOS&gt;</text>
<text class="b" x="761" y="4620" font-size="17">标点</text>
<text class="b" x="849" y="4635" font-size="17">句子结束标志</text>
<g class="p" font-size="17">
<text x="240" y="4712">y<tspan font-size="10" dy="-7">&lt;1&gt;</tspan></text><text x="335" y="4712">y<tspan font-size="10" dy="-7">&lt;2&gt;</tspan></text><text x="432" y="4712">y<tspan font-size="10" dy="-7">&lt;3&gt;</tspan></text><text x="528" y="4705">. . .</text><text x="727" y="4712">y<tspan font-size="10" dy="-7">&lt;8&gt;</tspan></text><text x="842" y="4712">y<tspan font-size="10" dy="-7">&lt;9&gt;</tspan></text>
<text x="245" y="4752">x<tspan font-size="10" dy="-7">&lt;t&gt;</tspan><tspan dy="7"> = y</tspan><tspan font-size="10" dy="-7">&lt;t-1&gt;</tspan></text>
<text x="174" y="4840" font-size="14">10,000</text>
<text x="425" y="4838">&lt;UNK&gt;→</text>
</g>
<text class="t" x="220" y="4800" font-size="29" textLength="652" lengthAdjust="spacingAndGlyphs">The Egyptian Mau is a bread of cat. &lt;EOS&gt;</text>
<text class="b" x="531" y="4838" font-size="18">未出现在词典中的词</text>
<text class="s" x="844" y="4862" font-size="12">Andrew Ng</text>

<text class="t" x="163" y="4916" font-size="34" textLength="189" lengthAdjust="spacingAndGlyphs">RNN model</text>
<text class="b" x="408" y="4880" font-size="16">条件概率</text>
<g class="p" font-size="12">
<text x="172" y="4935">p(a) p(aaron) ... p(cats) .... p(zulu)</text>
<text x="315" y="4948">p(&lt;unk&gt;)</text><text x="318" y="4960">p(&lt;EOS&gt;)</text>
<text x="430" y="4895" font-size="13">P(average | cats)</text>
<text x="553" y="4915" font-size="15">P( ___ | "cats average")</text>
<text x="800" y="4915" font-size="15">P(&lt;EOS&gt; | ....)</text>
</g>
<g fill="none" stroke="#2a5ea8" stroke-width="1.5">
<ellipse cx="262" cy="4963" rx="30" ry="19"/><ellipse cx="418" cy="4963" rx="23" ry="19"/><ellipse cx="534" cy="4963" rx="30" ry="19"/>
<rect x="242" y="5008" width="51" height="42"/><rect x="389" y="5008" width="55" height="40"/><rect x="510" y="5006" width="69" height="40"/><rect x="632" y="5008" width="51" height="34"/><rect x="806" y="5012" width="53" height="26"/>
<path d="M265,5006 L265,4984 M415,5006 L415,4984 M540,5004 L540,4984 M832,5010 L832,4985"/>
<path d="M218,5026 L238,5026 M298,5026 L380,5026 M447,5026 L502,5026 M583,5024 L625,5024 M690,5024 L720,5024 M770,5025 L800,5025"/>
<path d="M270,5070 L270,5055 M416,5070 L416,5052 M545,5070 L545,5050 M832,5068 L832,5042"/>
<path d="M408,4945 L408,4920 Q410,4905 420,4902 M525,4945 Q525,4925 545,4922"/>
</g>
<g class="p" font-size="16">
<text x="254" y="4972">ŷ<tspan font-size="10" dy="-6">&lt;1&gt;</tspan></text><text x="408" y="4972">ŷ<tspan font-size="10" dy="-6">&lt;2&gt;</tspan></text><text x="524" y="4972">ŷ<tspan font-size="10" dy="-6">&lt;3&gt;</tspan></text><text x="808" y="4970">ŷ<tspan font-size="10" dy="-6">&lt;9&gt;</tspan></text>
<text x="254" y="5035">a<tspan font-size="10" dy="-7">&lt;1&gt;</tspan></text><text x="402" y="5035">a<tspan font-size="10" dy="-7">&lt;2&gt;</tspan></text><text x="530" y="5035">a<tspan font-size="10" dy="-7">&lt;3&gt;</tspan></text><text x="815" y="5032">a<tspan font-size="10" dy="-7">&lt;9&gt;</tspan></text>
<text x="163" y="5032">a<tspan font-size="10" dy="-7">&lt;0&gt;</tspan><tspan dy="7">=0⃗</tspan></text><text x="752" y="5029">- - -</text>
<text x="255" y="5076">x<tspan font-size="10" dy="-7">&lt;1&gt;</tspan><tspan dy="7"> = 0⃗</tspan></text><text x="376" y="5076">x<tspan font-size="10" dy="-7">&lt;2&gt;</tspan><tspan dy="7"> = y</tspan><tspan font-size="10" dy="-7">&lt;1&gt;</tspan></text><text x="508" y="5076">x<tspan font-size="10" dy="-7">&lt;3&gt;</tspan><tspan dy="7"> = y</tspan><tspan font-size="10" dy="-7">&lt;2&gt;</tspan></text><text x="807" y="5076">x<tspan font-size="10" dy="-7">&lt;9&gt;</tspan><tspan dy="7"> = y</tspan><tspan font-size="10" dy="-7">&lt;8&gt;</tspan></text>
</g>
</svg>
</body></html>
